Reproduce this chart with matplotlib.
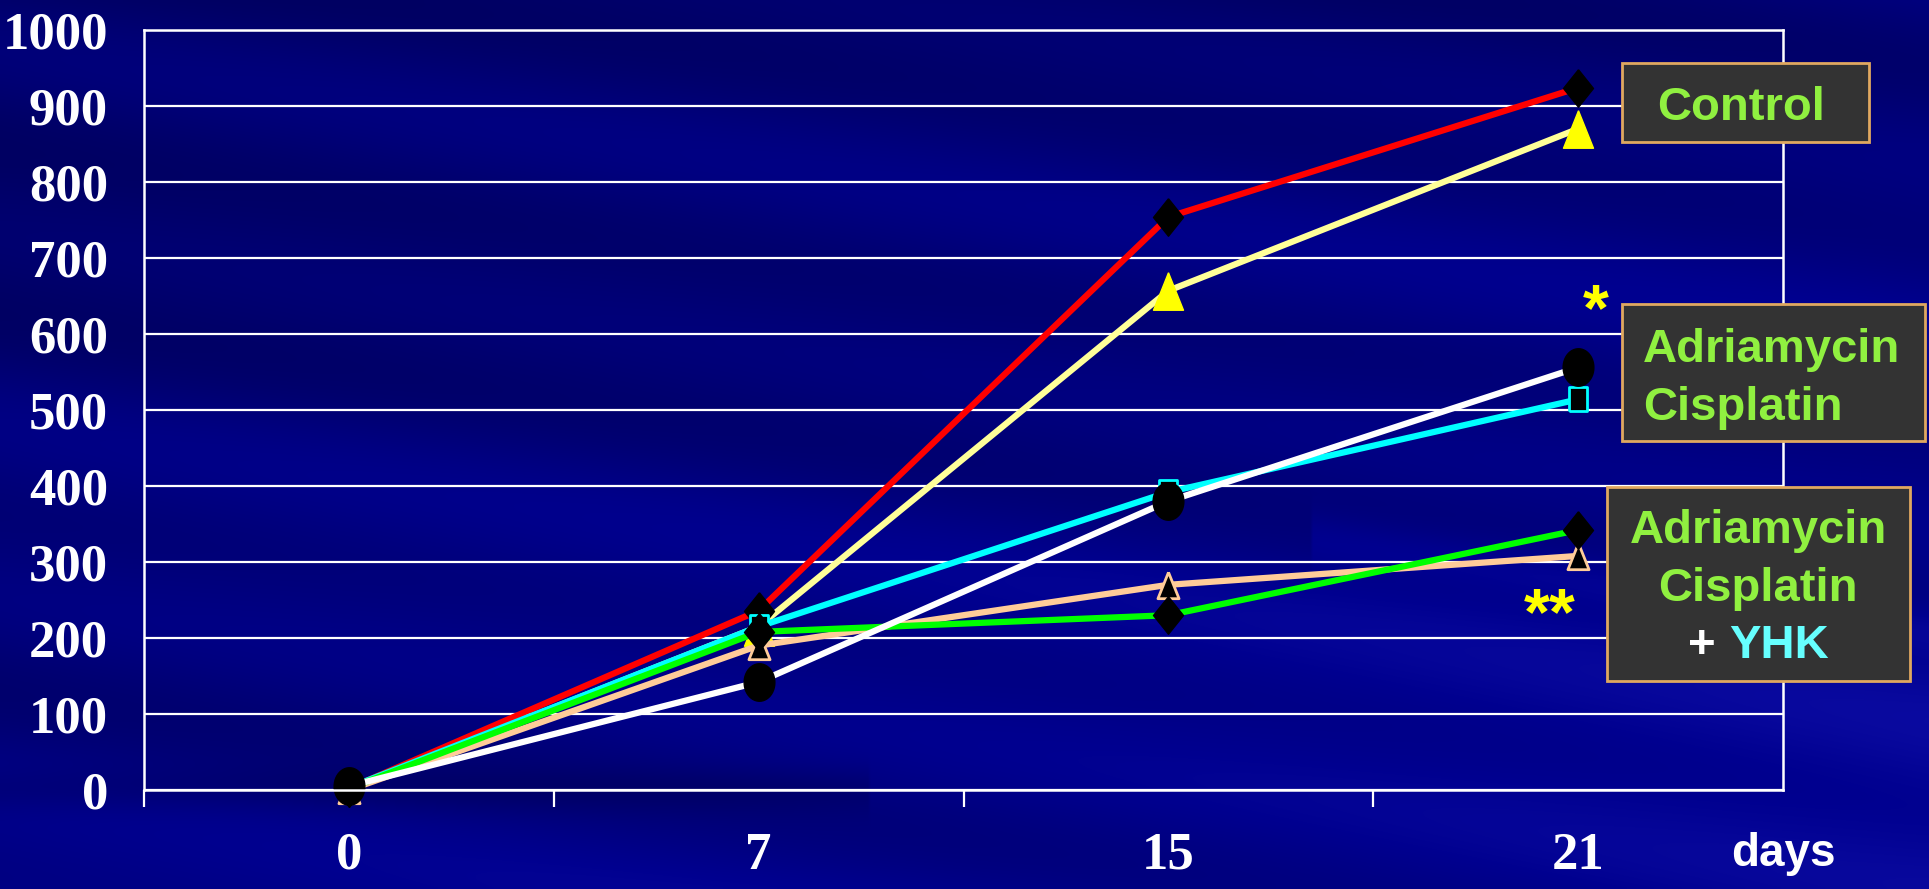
import numpy as np
import matplotlib
matplotlib.use('Agg')
import matplotlib.pyplot as plt
from matplotlib.patches import Rectangle

#-----------------------------------------------------------------------------
# data
days = ['0', '7', '15', '21']
control_red = [2, 236, 754, 924]        # red line, black diamond
control_yellow = [2, 215, 657, 870]     # pale yellow line, yellow triangle
adr_cis_cyan = [3, 215, 392, 514]       # cyan line, black square
adr_cis_white = [5, 142, 380, 556]      # white line, black circle
yhk_peach = [0, 190, 270, 308]          # peach line, black triangle
yhk_green = [2, 208, 230, 342]          # green line, black diamond
yticks = [0, 100, 200, 300, 400, 500, 600, 700, 800, 900, 1000]

#-----------------------------------------------------------------------------
W, H = 1929, 889
fig = plt.figure(figsize=(W/100, H/100), dpi=100)

'''background: navy with diagonal streaks'''
bg = fig.add_axes([0, 0, 1, 1], zorder=-10)
yy, xx = np.mgrid[0:1:300j, 0:1:650j]
d = yy - 0.33*xx
blue = 0.40 + 0.12*yy + 0.07*xx + 0.035*np.sin(d*30) + 0.03*np.sin(d*13 + 1.0)
blue += 0.08*np.exp(-((d - 0.38)/0.03)**2)*(xx > 0.68)
blue -= 0.06*np.exp(-((yy - 0.89)/0.025)**2)*(xx < 0.45)
glow = np.clip(blue - 0.56, 0, None)*0.6
img = np.dstack([glow, glow, np.clip(blue, 0, 1)])
bg.imshow(img, aspect='auto', extent=[0, 1, 0, 1], interpolation='bilinear')
bg.set_xlim(0, 1)
bg.set_ylim(0, 1)
bg.axis('off')

#-----------------------------------------------------------------------------
ax = fig.add_axes([144/W, 1 - 790/H, (1783 - 144)/W, (790 - 30)/H])
ax.set_facecolor('none')

diamond = [(0, 1), (0.8, 0), (0, -1), (-0.8, 0), (0, 1)]
tri = [(0, 1), (0.8, -1), (-0.8, -1), (0, 1)]
sq = [(-0.8, -1), (0.8, -1), (0.8, 1), (-0.8, 1), (-0.8, -1)]
t = np.linspace(0, 2*np.pi, 48)
ellipse = list(zip(0.82*np.cos(t), np.sin(t)))

x = np.arange(len(days))
lw = 4.5
ax.plot(x, control_yellow, color='#FFFF99', lw=lw, marker=tri, ms=27,
        mfc='#FFFF00', mec='#FFFF00', mew=1, markevery=[1, 2, 3], clip_on=False)
ax.plot(x, control_red, color='#FF0000', lw=lw, marker=diamond, ms=27,
        mfc='black', mec='black', clip_on=False)
ax.plot(x, adr_cis_cyan, color='#00FFFF', lw=lw, marker=sq, ms=17,
        mfc='black', mec='#00FFFF', mew=2, clip_on=False)
ax.plot(x, yhk_peach, color='#FFCC99', lw=lw, marker=tri, ms=19,
        mfc='black', mec='#FFCC99', mew=2, clip_on=False)
ax.plot(x, yhk_green, color='#00FF00', lw=lw, marker=diamond, ms=27,
        mfc='black', mec='black', clip_on=False)
ax.plot(x, adr_cis_white, color='white', lw=lw, marker=ellipse, ms=27,
        mfc='black', mec='black', clip_on=False)

ax.set_xlim(-0.5, 3.5)
ax.set_ylim(0, 1000)
ax.set_axisbelow(True)
ax.yaxis.grid(True, color='white', lw=1.6)

ax.set_yticks(yticks)
ax.set_yticklabels([str(v) for v in yticks])
ax.tick_params(axis='y', length=0, pad=26, labelcolor='white')
for lab in ax.get_yticklabels():
    lab.set_fontfamily('Liberation Serif')
    lab.set_fontweight('bold')
    lab.set_fontsize(38)

ax.set_xticks(list(x) + [3.5])
ax.set_xticklabels(days + ['days'])
ax.set_xticks(np.arange(-0.5, 4, 1), minor=True)
ax.tick_params(axis='x', which='major', length=0, pad=30, labelcolor='white')
ax.tick_params(axis='x', which='minor', length=12, width=1.6, color='white')
for lab in ax.get_xticklabels():
    lab.set_fontfamily('Liberation Serif')
    lab.set_fontweight('bold')
    lab.set_fontsize(38)
days_lab = ax.get_xticklabels()[-1]
days_lab.set_fontfamily('Liberation Sans')
days_lab.set_fontsize(33)

for s in ['left', 'right', 'top', 'bottom']:
    ax.spines[s].set_color('white')
    ax.spines[s].set_linewidth(1.8)

#-----------------------------------------------------------------------------
'''legend boxes'''
box_fc, box_ec, txt_c = '#333333', '#E0A860', '#90F040'
tf = fig.transFigure

def box(x0, y0, x1, y1):
    fig.add_artist(Rectangle((x0/W, 1 - y1/H), (x1 - x0)/W, (y1 - y0)/H,
                             transform=tf, fc=box_fc, ec=box_ec, lw=2))

def label(px, py, s, c=txt_c, ha='left', size=34):
    fig.text(px/W, 1 - py/H, s, color=c, ha=ha, va='baseline',
             fontsize=size, fontweight='bold', fontfamily='Liberation Sans')

box(1622, 63, 1869, 142)
label(1741, 120, 'Control', ha='center')

box(1622, 304, 1925, 441)
label(1643, 362, 'Adriamycin')
label(1643, 420, 'Cisplatin')

box(1607, 487, 1910, 681)
label(1758, 543, 'Adriamycin', ha='center')
label(1758, 601, 'Cisplatin', ha='center')
label(1702, 658, '+', c='white', ha='center')
label(1779, 658, 'YHK', c='#66FFFF', ha='center')

label(1596, 330, '*', c='#FFFF00', ha='center', size=48)
label(1550, 634, '**', c='#FFFF00', ha='center', size=48)

fig.savefig('out.png', dpi=100)
